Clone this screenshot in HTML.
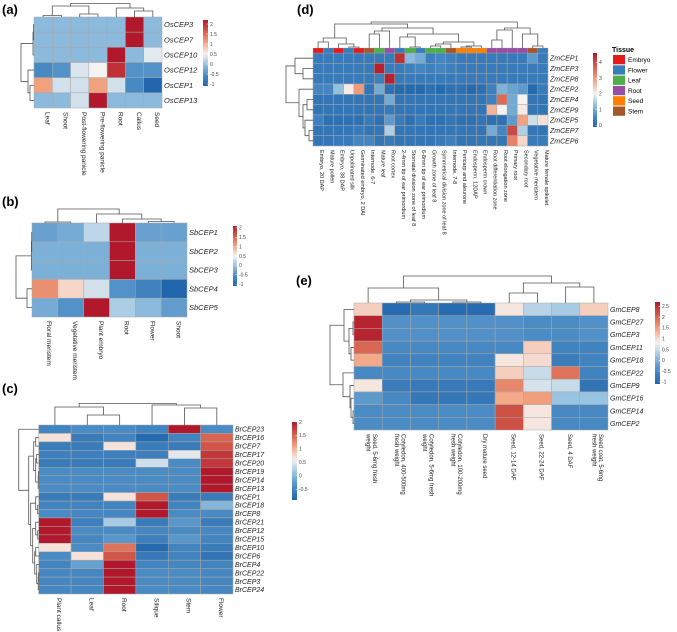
<!DOCTYPE html>
<html><head><meta charset="utf-8"><style>
html,body{margin:0;padding:0;background:#fff;width:677px;height:632px;overflow:hidden}
svg{display:block;font-family:"Liberation Sans",sans-serif}
</style></head><body>
<svg id="fig" width="677" height="632" viewBox="0 0 677 632">
<text x="2" y="14" font-size="13" font-weight="bold">(a)</text>
<text x="2" y="206" font-size="13" font-weight="bold">(b)</text>
<text x="2" y="393" font-size="13" font-weight="bold">(c)</text>
<text x="297" y="14" font-size="13" font-weight="bold">(d)</text>
<text x="296" y="285" font-size="13" font-weight="bold">(e)</text>
</svg>
<script>
// ---------- Panel (a) data ----------
const aCols=["Leaf","Shoot","Post-flowering panicle","Pre-flowering panicle","Root","Callus","Seed"];
const aRows=["OsCEP3","OsCEP7","OsCEP10","OsCEP12","OsCEP1","OsCEP13"];
const aVals=[
[-0.1,-0.1,-0.1,-0.1,-0.1,2.2,-0.1],
[-0.1,-0.1,-0.1,-0.1,-0.1,2.2,-0.1],
[-0.1,-0.1,-0.1,-0.1,2.2,-0.1,0.4],
[-0.6,-0.5,0.35,0.5,2.0,-0.5,-0.5],
[1.1,0.3,0.3,1.1,0.3,-0.6,-1.1],
[-0.1,-0.1,0.3,2.2,-0.1,-0.1,-0.1]];
const aTicks=["2","1.5","1","0.5","0","-0.5","-1"];
// ---------- Panel (b) data ----------
const bCols=["Floral meristem","Vegetative meristem","Plant embryo","Root","Flower","Shoot"];
const bRows=["SbCEP1","SbCEP2","SbCEP3","SbCEP4","SbCEP5"];
const bVals=[
[-0.35,-0.25,0.2,2.1,-0.35,-0.35],
[-0.2,-0.2,-0.2,2.1,-0.2,-0.2],
[-0.2,-0.2,-0.2,2.1,-0.2,-0.2],
[1.2,0.7,0.3,-0.5,-0.7,-1.1],
[-0.25,-0.5,2.1,0.1,-0.1,-0.4]];
const bTicks=["2","1.5","1","0.5","0","-0.5","-1"];
// ---------- Panel (c) data ----------
const cCols=["Plant callus","Leaf","Root","Silique","Stem","Flower"];
const cRows=["BrCEP23","BrCEP16","BrCEP7","BrCEP17","BrCEP20","BrCEP19","BrCEP14","BrCEP13","BrCEP1","BrCEP18","BrCEP8","BrCEP21","BrCEP12","BrCEP15","BrCEP10","BrCEP6","BrCEP4","BrCEP22","BrCEP3","BrCEP24"];
const cVals=[
[-0.5,-0.4,-0.4,-0.5,2,-0.4],
[0.7,-0.6,-0.5,-0.85,-0.5,1.5],
[-0.6,-0.6,0.7,-0.6,-0.6,1.6],
[-0.55,-0.55,-0.55,-0.55,0.5,1.8],
[-0.6,-0.6,-0.6,0.4,-0.4,1.8],
[-0.4,-0.4,-0.4,-0.4,-0.4,2],
[-0.4,-0.4,-0.4,-0.4,-0.4,2],
[-0.4,-0.4,-0.4,-0.4,-0.4,2],
[-0.6,-0.6,0.7,1.6,-0.6,-0.6],
[-0.5,-0.5,-0.5,2,-0.5,0],
[-0.4,-0.45,-0.45,2,-0.4,-0.4],
[2,-0.55,0.2,-0.6,-0.3,-0.6],
[2,-0.4,-0.4,-0.45,-0.4,-0.45],
[2,-0.45,-0.3,-0.55,-0.3,-0.5],
[0.7,-0.4,1.4,-0.85,-0.5,-0.6],
[-0.4,0.7,1.6,-0.65,-0.5,-0.7],
[-0.5,-0.2,2,-0.5,-0.45,-0.5],
[-0.45,-0.45,2,-0.4,-0.4,-0.45],
[-0.45,-0.45,2,-0.4,-0.4,-0.45],
[-0.45,-0.45,2,-0.4,-0.4,-0.45]];
const cTicks=["2","1.5","1","0.5","0","-0.5"];
// ---------- Panel (d) data ----------
const dCols=["Embryo, 20 DAP","Mature pollen","Embryo, 38 DAP","Unpollinated silk","Germinated embryo, 2 DAI","Internode, 6-7","Mature leaf","Root cortex","2-4mm tip of ear primordium","Stomatal division zone of leaf 8","6-8mm tip of ear primordium","Growth zone of leaf 8","Symmetrical division zone of leaf 8","Internode, 7-8","Pericarp and aleurone","Endosperm, 12DAP","Endosperm crown","Root differentiation zone","Root elongation zone","Primary root","Secondary root","Vegetative meristem","Mature female spikelet"];
const dTissue=["Embryo","Flower","Embryo","Flower","Embryo","Stem","Leaf","Root","Flower","Leaf","Flower","Leaf","Leaf","Stem","Seed","Seed","Seed","Root","Root","Root","Root","Stem","Flower"];
const dRows=["ZmCEP1","ZmCEP3","ZmCEP8","ZmCEP2","ZmCEP4","ZmCEP9","ZmCEP5","ZmCEP7","ZmCEP6"];
const dVals=[
[0.3,0.3,0.3,0.3,0.3,0.3,0.3,0.3,4.3,1.2,1.0,0.4,0.5,0.4,0.3,0.3,0.3,0.3,0.3,0.3,0.3,0.8,0.3],
[0.3,0.3,0.3,0.3,0.3,0.3,4.5,0.3,0.3,0.4,0.5,0.4,0.5,0.4,0.3,0.3,0.3,0.3,0.3,0.3,0.3,0.3,0.3],
[0.3,0.3,0.3,0.3,0.3,0.3,0.4,4.5,0.3,0.3,0.3,0.3,0.3,0.3,0.3,0.3,0.3,0.3,0.3,0.3,0.3,0.3,0.3],
[0.5,0.5,1.3,2.1,3.0,0.2,1.0,0.1,0,0,0,0.1,0,0.1,0.1,0,0.1,0.4,1.1,0.9,0.8,0,0.3],
[0.2,0.2,0.2,0.2,0.2,0.2,0.2,1.0,0.2,0.2,0.2,0.2,0.2,0.2,0.2,0.2,0.2,0.4,3.6,1.0,2.0,0.2,0.2],
[0.2,0.2,0.2,0.2,0.2,0.2,0.2,0.3,0.2,0.2,0.2,0.2,0.2,0.2,0.2,0.2,0.2,2.7,2.0,1.0,2.1,0.2,0.2],
[0.4,0.1,0.1,0.1,0.1,0.3,0.1,0.8,0.3,0.1,0.3,0.1,0.1,0.2,0.1,0.1,0.2,0.1,0.1,0.8,2.9,1.7,2.2],
[0.2,0.2,0.2,0.2,0.3,0.2,0.2,1.5,0.2,0.2,0.2,0.2,0.2,0.2,0.2,0.2,0.2,1.0,0.5,4.0,1.5,0.2,0.2],
[0.2,0.2,0.3,0.3,0.5,0.5,0.2,0.3,0.2,0.2,0.2,0.2,0.3,0.4,0.2,0.2,0.2,0.2,0.2,3.3,2.3,0.3,0.3]];
const dTicks=["4","3","2","1","0"];
const tissueNames=["Embryo","Flower","Leaf","Root","Seed","Stem"];
// ---------- Panel (e) data ----------
const eCols=[["Seed, 5-6mg fresh","weight"],["Cotyledon, 400-500mg","fresh weight"],["Cotyledon, 5-6mg fresh","weight"],["Cotyledon, 100-200mg","fresh weight"],["Dry mature seed"],["Seed, 12-14 DAF"],["Seed, 22-24 DAF"],["Seed, 4 DAF"],["Seed coat, 5-6mg","fresh weight"]];
const eRows=["GmCEP8","GmCEP27","GmCEP3","GmCEP11","GmCEP18","GmCEP22","GmCEP9","GmCEP16","GmCEP14","GmCEP2"];
const eVals=[
[1.1,-1,-0.8,-1,-1,0.9,0.4,0.3,1.1],
[2.6,-0.4,-0.4,-0.4,-0.4,-0.4,-0.45,-0.45,-0.4],
[2.6,-0.4,-0.4,-0.4,-0.4,-0.4,-0.45,-0.45,-0.4],
[2.0,-0.5,-0.5,-0.5,-0.5,-0.5,1.1,-0.6,-0.6],
[1.4,-0.6,-0.6,-0.6,-0.6,0.9,1.0,-0.7,-0.6],
[-0.5,-0.5,-0.5,-0.5,-0.5,1.1,0.5,1.9,-0.6],
[0.9,-0.7,-0.75,-0.75,-0.75,1.7,0.6,0.5,-0.85],
[-0.3,-0.5,-0.8,-0.8,-0.8,1.4,1.5,0.2,0.2],
[-0.45,-0.45,-0.45,-0.45,-0.45,2.2,0.9,-0.5,-0.5],
[-0.45,-0.45,-0.45,-0.45,-0.45,2.2,0.9,-0.5,-0.5]];
const eTicks=["2.5","2","1.5","1","0.5","0","-0.5","-1"];

const NS="http://www.w3.org/2000/svg";
const svg=document.getElementById('fig');
const PAL=["#2166ac","#4a8bc4","#94c1e0","#f5f3f2","#f4a582","#d6604d","#b2182b"];
const TCOL={Embryo:"#e41a1c",Flower:"#377eb8",Leaf:"#4daf4a",Root:"#984ea3",Seed:"#ff7f00",Stem:"#a65628"};
function hex(h){return [1,3,5].map(i=>parseInt(h.substr(i,2),16));}
function lerpPal(t){t=Math.max(0,Math.min(1,t));const s=t*6,i=Math.min(5,Math.floor(s)),f=s-i;
 const a=hex(PAL[i]),b=hex(PAL[i+1]);return "rgb("+a.map((v,k)=>Math.round(v+(b[k]-v)*f)).join(",")+")";}
function col(v,sc){const t=v<sc.mid?0.5*(v-sc.min)/(sc.mid-sc.min):0.5+0.5*(v-sc.mid)/(sc.max-sc.mid);return lerpPal(t);}
function el(tag,attrs,parent){const e=document.createElementNS(NS,tag);for(const k in attrs)e.setAttribute(k,attrs[k]);(parent||svg).appendChild(e);return e;}

function heat(p){
 const g=el('g',{});
 
 
 const nc=p.cols.length,nr=p.rows.length,cw=(p.x1-p.x0)/nc,rh=(p.y1-p.y0)/nr;
 const xs=i=>p.x0+cw*i, ys=j=>p.y0+rh*j;
 p.vals.forEach((row,j)=>row.forEach((v,i)=>{
  const r=el('rect',{x:xs(i),y:ys(j),width:cw,height:rh,fill:col(v,p.sc),stroke:"#a8a8a8","stroke-width":0.5},g);
  
  
 }));
 p.rows.forEach((n,j)=>{
  const t=el('text',{x:p.x1+2,y:ys(j)+rh/2+p.fs*0.35,'font-size':p.fs,'font-style':'italic',fill:'#222'},g);
  t.textContent=n;
  
  
 });
 p.cols.forEach((n,i)=>{
  const lines=Array.isArray(n)?n:[n];
  const cx=xs(i)+cw/2+p.cfs*0.35+(lines.length>1?p.cfs*0.5:0);
  const t=el('text',{transform:`translate(${cx},${p.y1+4}) rotate(90)`,'font-size':p.cfs,fill:'#222'},g);
  lines.forEach((ln,k)=>{const s=el('tspan',{x:0,dy:k?p.cfs*1.1:0},t);s.textContent=ln;});
  
  
 });
 const gid='grad-'+p.id;const defs=el('defs',{});const lg=el('linearGradient',{id:gid,x1:0,y1:1,x2:0,y2:0},defs);
 for(let k=0;k<=20;k++){const v=p.sc.min+(p.sc.max-p.sc.min)*k/20;el('stop',{offset:k/20,'stop-color':col(v,p.sc)},lg);}
 const cb=el('rect',{x:p.cb[0],y:p.cb[1],width:p.cb[2],height:p.cb[3],fill:`url(#${gid})`});
 
 
 p.ticks.forEach(tk=>{const v=parseFloat(tk);const y=p.cb[1]+p.cb[3]*(1-(v-p.sc.min)/(p.sc.max-p.sc.min));
  el('line',{x1:p.cb[0]+p.cb[2]-1.5,x2:p.cb[0]+p.cb[2],y1:y,y2:y,stroke:'#fff','stroke-width':0.5});
  const t=el('text',{x:p.cb[0]+p.cb[2]+2,y:y+1.8,'font-size':5,fill:'#444'});t.textContent=tk;
  
  });
 function dendro(merges,n,pos,base,dir,name){
  const nodes=[];for(let i=0;i<n;i++)nodes.push({c:pos(i),h:0});
  let d='';
  merges.forEach(([a,b,h])=>{const A=nodes[a],B=nodes[b];
   if(dir==='top'){d+=`M${A.c},${base-A.h}V${base-h}H${B.c}V${base-B.h}`;}
   else{d+=`M${base-A.h},${A.c}H${base-h}V${B.c}H${base-B.h}`;}
   nodes.push({c:(A.c+B.c)/2,h:h});});
  const pth=el('path',{d:d,fill:'none',stroke:'#555','stroke-width':0.8});
  
  
 }
 dendro(p.top,nc,i=>xs(i)+cw/2,p.topBase||p.y0,'top',p.id+'-column-dendrogram');
 dendro(p.left,nr,j=>ys(j)+rh/2,p.x0,'left',p.id+'-row-dendrogram');
 return {xs,cw};
}

heat({id:'a',cols:aCols,rows:aRows,vals:aVals,ticks:aTicks,x0:34,x1:162,y0:17,y1:108,fs:7.5,cfs:6.5,
 sc:{min:-1.1,mid:0.5,max:2.2},cb:[203,20,5,66],
 top:[[0,1,1.5],[2,3,3],[7,8,11],[5,6,6],[4,10,9],[9,11,13.5]],
 left:[[0,1,0.5],[6,2,1],[4,5,4],[3,8,6],[7,9,13]]});
heat({id:'b',cols:bCols,rows:bRows,vals:bVals,ticks:bTicks,x0:32,x1:187,y0:223,y1:317,fs:7.5,cfs:6.5,
 sc:{min:-1.1,mid:0.5,max:2.1},cb:[233,226,4,60],
 top:[[0,1,1],[4,5,1.5],[3,7,4],[2,8,9],[6,9,14]],
 left:[[0,1,0.3],[5,2,0.6],[3,4,5],[6,7,16]]});
heat({id:'c',cols:cCols,rows:cRows,vals:cVals,ticks:cTicks,x0:38.7,x1:233,y0:425,y1:594,fs:7,cfs:6.5,
 sc:{min:-0.9,mid:0.6,max:2},cb:[292,422,5,78],
 top:[[1,2,10],[0,6,18],[4,5,17],[3,8,20],[7,9,21.5]],
 left:[[5,6,0.3],[20,7,0.5],[3,4,2],[22,21,3],[1,2,3],[24,23,5],[9,10,1],[8,26,3],[12,13,1],[11,28,3],
  [17,18,0.3],[30,19,0.5],[16,31,2],[14,15,3],[33,32,4],[29,34,6],[27,35,8],[25,36,10],[0,37,20]]});
const dd=heat({id:'d',cols:dCols,rows:dRows,vals:dVals,ticks:dTicks,x0:313,x1:548,y0:53,y1:146,topBase:48,fs:7,cfs:5.5,
 sc:{min:-0.1,mid:2,max:4.6},cb:[593,53,4,74],
 top:[[0,1,6],[3,4,1],[2,24,4],[23,25,10],[5,6,14],[7,27,17],[9,10,1],[8,29,11],[11,12,2],[13,31,4],[14,15,1],[33,16,2],[32,34,6],[30,35,14],[28,36,20],[26,37,24],
  [21,22,2],[20,39,14],[17,18,8],[19,41,18],[42,40,20],[38,43,26]],
 left:[[1,2,10],[0,9,18],[4,5,6],[7,8,4],[6,12,8],[11,13,10],[3,14,14],[10,15,27]]});
dTissue.forEach((t,i)=>{const r=el('rect',{x:dd.xs(i),y:48,width:dd.cw,height:5,fill:TCOL[t],stroke:'#a8a8a8','stroke-width':0.3});
 
 });
const tt=el('text',{x:612,y:52,'font-size':7,'font-weight':'bold'});tt.textContent='Tissue';


tissueNames.forEach((n,i)=>{const y=55+i*10.3;
 const r=el('rect',{x:613,y:y,width:12,height:9.3,fill:TCOL[n]});
 
 
 const t=el('text',{x:628,y:y+7,'font-size':6.5});t.textContent=n;
 
 });
heat({id:'e',cols:eCols,rows:eRows,vals:eVals,ticks:eTicks,x0:354,x1:608,y0:303,y1:430,fs:7,cfs:6,
 sc:{min:-1.1,mid:0.8,max:2.7},cb:[655,302,5,82],
 top:[[1,2,1],[3,4,1],[9,10,3],[0,11,15],[5,6,10],[7,8,16],[13,14,20],[12,15,27]],
 left:[[1,2,1],[3,4,3],[10,11,5],[0,12,10],[8,9,1],[7,14,3],[6,15,4],[5,16,11],[13,17,24]]});
</script>
</body></html>
